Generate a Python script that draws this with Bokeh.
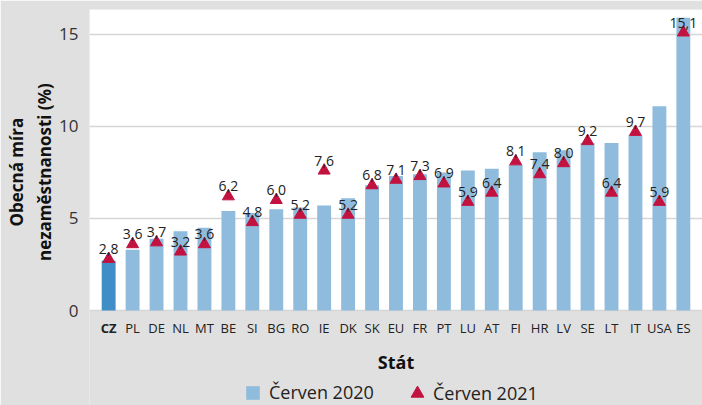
from bokeh.plotting import figure
from bokeh.models import (ColumnDataSource, Range1d, FactorRange, FixedTicker, Legend,
                          LegendItem, BoxAnnotation)
from bokeh.core.properties import value
from bokeh.embed import file_html
from bokeh.resources import INLINE

countries = ["CZ", "PL", "DE", "NL", "MT", "BE", "SI", "BG", "RO", "IE", "DK", "SK", "EU",
             "FR", "PT", "LU", "AT", "FI", "HR", "LV", "SE", "LT", "IT", "USA", "ES"]
jun_2020 = [2.7, 3.3, 3.9, 4.3, 4.5, 5.4, 5.3, 5.5, 5.6, 5.7, 6.1, 6.8, 7.3,
            7.4, 7.5, 7.6, 7.7, 7.9, 8.6, 8.7, 9.1, 9.1, 9.5, 11.1, 15.9]
jun_2021 = [2.8, 3.6, 3.7, 3.2, 3.6, 6.2, 4.8, 6.0, 5.2, 7.6, 5.2, 6.8, 7.1,
            7.3, 6.9, 5.9, 6.4, 8.1, 7.4, 8.0, 9.2, 6.4, 9.7, 5.9, 15.1]
y_ticks = [0, 5, 10, 15]
series_names = ["Červen 2020", "Červen 2021"]
highlight = "CZ"
x_title = "Stát"
y_title_lines = ["Obecná míra", "nezaměstnanosti (%)"]

FONT = "Open Sans"
BG = "#e0e0e0"
BAR = "#8fbbdd"
BAR_CZ = "#3f8ec8"
TRI = "#c2123f"

n = len(countries)
bar_colors = [BAR_CZ if c == highlight else BAR for c in countries]
tick_styles = ["bold" if c == highlight else "normal" for c in countries]
labels_2021 = [f"{v:.1f}".replace(".", ",") for v in jun_2021]

src = ColumnDataSource(dict(x=countries, y20=jun_2020, y21=jun_2021, base=[0] * n,
                            color=bar_colors, lab=labels_2021, style=tick_styles))

# the frame runs down to the bottom of the picture; the white plot area is y >= 0
p = figure(width=702, height=405, output_backend="svg", toolbar_location=None,
           x_range=FactorRange(*countries, range_padding=0.3, range_padding_units="absolute"),
           y_range=Range1d(-5.16, 16.35),
           min_border_left=89, min_border_right=0, min_border_top=9, min_border_bottom=0)

p.background_fill_color = BG
p.border_fill_color = BG
p.outline_line_color = None
p.add_layout(BoxAnnotation(bottom=0, fill_color="white", fill_alpha=1.0,
                           line_color=None, level="image"))

bars = p.vbar(x="x", top="y20", width=0.58, source=src, fill_color="color", line_color=None)
tris = p.scatter(x="x", y="y21", source=src, marker="triangle", size=12,
                 fill_color=TRI, line_color=TRI)
p.text(x="x", y="y21", text="lab", source=src, text_align="center",
       text_baseline="alphabetic", y_offset=-10, text_font=value(FONT),
       text_font_size="14px", text_color="#222222")

# category labels under the bars (CZ in bold)
p.text(x="x", y="base", text="x", source=src, text_align="center", text_baseline="top",
       y_offset=8, text_font=value(FONT), text_font_size="13px",
       text_font_style="style", text_color="#222222")
# x axis title, centred under the middle category
mid = countries[n // 2]
p.text(x=[mid], y=[0], text=[x_title], text_align="center", text_baseline="middle",
       y_offset=51, text_font=value(FONT), text_font_size="18px",
       text_font_style="bold", text_color="#111111")

p.xaxis.visible = False

pad = "\u00a0" * 16
p.yaxis.ticker = FixedTicker(ticks=y_ticks)
p.yaxis.axis_line_color = None
p.yaxis.major_tick_line_color = None
p.yaxis.minor_tick_line_color = None
p.yaxis.major_label_text_font = FONT
p.yaxis.major_label_text_font_size = "17px"
p.yaxis.major_label_text_color = "#333333"
p.yaxis.major_label_standoff = 5
p.yaxis.axis_label = "\n".join(pad + s for s in y_title_lines)
p.yaxis.axis_label_text_font = FONT
p.yaxis.axis_label_text_font_size = "17px"
p.yaxis.axis_label_text_font_style = "bold"
p.yaxis.axis_label_text_color = "#111111"
p.yaxis.axis_label_standoff = 0

p.xgrid.grid_line_color = None
p.ygrid.grid_line_color = "#d6d6d6"
p.ygrid.grid_line_width = 1.5

common = dict(orientation="horizontal", label_text_font=FONT, label_text_font_size="18px",
              label_text_color="#222222", padding=0, margin=0,
              background_fill_alpha=0, border_line_color=None)
leg1 = Legend(items=[LegendItem(label=series_names[0], renderers=[bars], index=1)],
              location=(155, 1), glyph_width=17, glyph_height=17, label_standoff=8, **common)
leg2 = Legend(items=[LegendItem(label=series_names[1], renderers=[tris], index=0)],
              location=(312, -4), glyph_width=32, glyph_height=32, label_standoff=0, **common)
p.add_layout(leg1)
p.add_layout(leg2)

open("out.html", "w").write(file_html(p, INLINE))
